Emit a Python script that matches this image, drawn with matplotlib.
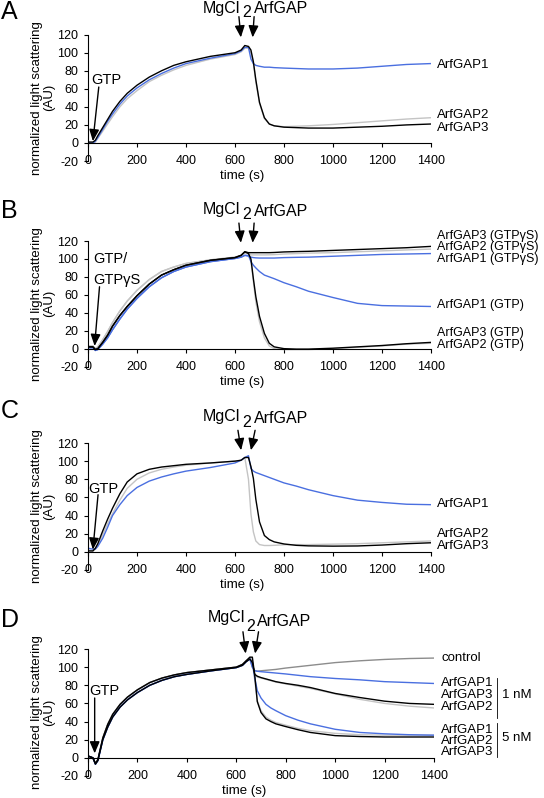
import matplotlib
matplotlib.use('Agg')
import matplotlib.pyplot as plt
import matplotlib.transforms as mtransforms

plt.rcParams['font.family'] = ['Liberation Sans', 'DejaVu Sans']
plt.rcParams['axes.unicode_minus'] = False

# time grid (s) shared by every trace
T = [0, 20, 30, 40, 60, 80, 100, 130, 160, 200, 250, 300, 350, 400, 500, 600,
     625, 640, 655, 665, 675, 685, 700, 720, 740, 760, 800, 850, 900, 1000,
     1100, 1200, 1300, 1400]

# panel A
a_gap1 = [0, 0, 2, 6, 15, 24, 32, 43, 52, 61, 70, 77, 83, 88, 94, 99, 102, 106, 106,
          93, 88, 86, 85, 84, 84, 83.5, 83, 82.5, 82, 82, 83, 85, 87, 88]
a_gap2 = [0, 0, 1, 5, 13, 21, 29, 40, 49, 58, 68, 75, 81, 86, 93, 98, 101, 105, 105,
          100, 88, 68, 44, 27, 21, 19, 18, 18.5, 19, 20.5, 22.5, 24.5, 26.5, 28]
a_gap3 = [1, 1, 3, 8, 17, 26, 35, 46, 55, 64, 73, 80, 86, 90, 96, 100, 103, 108, 107,
          103, 90, 70, 45, 28, 21, 19, 17.5, 17, 16.5, 16.5, 17.5, 18.5, 20, 21]

# panel B
b_gap1_gs = [1, 1, -2, -1, 5, 12, 21, 33, 44, 56, 69, 79, 86, 91, 97, 100.5, 102, 104, 103,
             102, 101.5, 101.2, 101, 101, 101, 101, 101.5, 101.8, 102, 103, 104, 105, 105.5, 106]
b_gap1_gtp = [1, 1, -2, -1, 5, 12, 21, 33, 44, 56, 69, 79, 86, 91, 97, 100.5, 102, 104, 104,
              97, 93, 90, 86, 82, 80, 78, 73.5, 69, 64, 57, 50.5, 48, 47.5, 47]
b_gap2_gs = [3, 3, 0, 2, 10, 19, 29, 42, 53, 65, 77, 86, 91, 95, 99, 102, 104, 107, 106,
             104.5, 104.5, 104.5, 104.5, 104.5, 104.6, 104.8, 105.5, 106, 106.5, 107, 108, 109, 110, 111]
b_gap2_gtp = [3, 3, 0, 2, 10, 19, 29, 42, 53, 65, 77, 86, 91, 95, 99, 102, 104, 107, 106,
              98, 75, 52, 30, 12, 3, 0, -1, -1, -1, 0, 1.5, 3, 5, 6]
b_gap3_gs = [2, 2, -1, 0, 7, 15, 25, 37, 47, 59, 72, 82, 88, 93, 98.5, 101.5, 104, 108, 107,
             107, 107, 107, 107, 107, 107, 107.2, 107.8, 108.2, 108.5, 109.5, 110.5, 111.5, 112.5, 114]
b_gap3_gtp = [2, 2, -1, 0, 7, 15, 25, 37, 47, 59, 72, 82, 88, 93, 98.5, 101.5, 104, 108, 106,
              100, 78, 58, 36, 17, 6, 2, 0, -0.5, -0.5, 0.5, 2, 3.5, 5.5, 7]

# panel C
c_gap1 = [4, 3, 3, 6, 15, 27, 40, 52, 62, 71, 78, 82.5, 86, 89, 93, 98, 101, 104, 106,
          92, 89, 87.5, 86, 84, 82, 80, 76, 72.5, 68.5, 62, 57, 54.5, 52.5, 52]
c_gap2 = [2, 1, 3, 7, 19, 31, 42, 57, 70, 80, 87, 91, 93.5, 95.5, 98, 100, 101, 104, 80,
          42, 22, 12, 8, 7, 7, 7.2, 7.8, 8, 8, 8.5, 9, 10, 11, 12]
c_gap3 = [1, 1, 4, 9, 23, 36, 48, 64, 77, 86, 91, 93.5, 95, 96.5, 98, 100, 101, 104, 104,
          94, 81, 58, 33, 18, 13.5, 11, 8.7, 7.2, 6.6, 6.3, 6.5, 7.5, 9, 10]

# panel D
d_control = [2, 0, -6, -2, 22, 37, 48, 59, 67, 75, 83, 88, 91.5, 94, 97, 100, 103, 107, 109,
             100, 96, 95.5, 96, 96.5, 97, 97.5, 99, 100.5, 102, 105, 107, 108.5, 109.5, 110]
d_gap1_1 = [2, 0, -7, -3, 20, 34, 45, 56, 64, 72, 80, 85.5, 89.5, 92, 96, 99.5, 102, 106, 109,
            100, 96, 95.5, 95, 94.5, 94, 93.5, 92.5, 91, 89.5, 87.5, 86, 84, 83, 82]
d_gap3_1 = [2, 0, -7, -3, 20, 34, 45, 56, 64, 72, 80, 85.5, 89.5, 92, 96, 99.5, 102, 106, 109,
            105, 92, 90, 88.5, 87, 85.5, 84, 82, 80, 77.5, 71, 66.5, 62.5, 60, 59]
d_gap2_1 = [2, 0, -6, -2, 22, 37, 48, 59, 67, 75, 83, 88, 91.5, 94, 97, 100, 103, 107, 110,
            104, 92, 89, 88, 86.5, 85, 83.5, 81.5, 79, 76.5, 70.5, 64.5, 60, 57, 55]
d_gap1_5 = [2, 0, -7, -3, 20, 34, 45, 56, 64, 72, 80, 85.5, 89.5, 92, 96, 99.5, 102, 106, 109,
            105, 88, 74, 66, 59, 55, 52, 46.5, 41.5, 37.5, 31.5, 28, 26.5, 25.5, 25]
d_gap2_5 = [2, 0, -6, -2, 22, 37, 48, 59, 67, 75, 83, 88, 91.5, 94, 97, 100, 103, 107, 111,
            106, 85, 63, 52, 45, 41.5, 39, 36, 32.5, 30, 27, 25.5, 25, 25, 25]
d_gap3_5 = [2, 0, -6, -2, 22, 37, 48, 59, 67, 75, 83, 88, 91.5, 94, 97, 100, 103, 107, 111,
            111, 90, 62, 50, 43, 40, 37.5, 34.5, 31, 28, 24.5, 23.5, 23, 23, 23]

BLUE = '#4a6fe0'
LGRAY = '#c4c4c4'
DGRAY = '#8c8c8c'
W, H = 544, 798

fig = plt.figure(figsize=(W / 100, H / 100), dpi=100)


def make_axes(left, right, top, bottom, letter, letter_y):
    ax = fig.add_axes([left / W, 1 - bottom / H, (right - left) / W, (bottom - top) / H])
    ax.set_xlim(0, 1400)
    ax.set_ylim(-20, 120)
    ax.patch.set_visible(False)
    for s in ('top', 'right'):
        ax.spines[s].set_visible(False)
    ax.spines['bottom'].set_position(('data', 0))
    for s in ('left', 'bottom'):
        ax.spines[s].set_linewidth(0.8)
    ax.set_xticks(range(0, 1401, 200))
    ax.set_yticks(range(-20, 121, 20))
    ax.tick_params(direction='out', length=3, width=0.8, labelsize=9)
    ax.tick_params(axis='x', pad=6)
    ax.tick_params(axis='y', pad=4)
    tr = mtransforms.blended_transform_factory(ax.transAxes, ax.transData)
    ax.text(0.45, -37, 'time (s)', transform=tr, ha='center', va='center', fontsize=9.5)
    fig.text(43 / W, 1 - (top + bottom) / 2 / H, 'normalized light scattering\n(AU)',
             rotation=90, ha='center', va='center', ma='center', fontsize=9.5, linespacing=1.05)
    fig.text(1 / W, 1 - letter_y / H, letter, ha='left', va='center', fontsize=18)
    return ax


def add_arrows(ax, mg, two, gap, a1, a2):
    # "MgCl" ends right where the lowered "2" starts
    ax.text(two[0] - 8, mg[1], 'MgCl', ha='right', va='center', fontsize=11.5)
    ax.text(two[0], two[1], '2', ha='left', va='center', fontsize=11.5)
    ax.text(gap[0], gap[1], 'ArfGAP', ha='left', va='center', fontsize=11.5)
    for (x0, y0, x1, y1) in (a1, a2):
        ax.annotate('', xy=(x1, y1), xytext=(x0, y0),
                    arrowprops=dict(arrowstyle='-|>,head_length=0.7,head_width=0.3',
                                    color='k', lw=1.0, shrinkA=0, shrinkB=0),
                    annotation_clip=False)


def gtp_arrow(ax, x0, y0, x1, y1):
    ax.annotate('', xy=(x1, y1), xytext=(x0, y0),
                arrowprops=dict(arrowstyle='-|>,head_length=0.7,head_width=0.3',
                                color='k', lw=1.0, shrinkA=0, shrinkB=0))


lw = 1.0

# ---- A ----
ax = make_axes(88, 431, 34.7, 161, 'A', 12)
ax.plot(T, a_gap2, color=LGRAY, lw=lw)
ax.plot(T, a_gap1, color=BLUE, lw=lw)
ax.plot(T, a_gap3, color='k', lw=lw)
add_arrows(ax, (474, 149.5), (630, 145), (677, 148.5), (616, 140, 624, 117), (678, 140, 672, 117))
ax.text(73, 70, 'GTP', ha='center', va='center', fontsize=10.5)
gtp_arrow(ax, 44, 62, 20, 2)
for txt, y in (('ArfGAP1', 86), ('ArfGAP2', 31), ('ArfGAP3', 17)):
    ax.text(1425, y, txt, ha='left', va='center', fontsize=9.5)

# ---- B ----
ax = make_axes(88, 431, 241, 366.6, 'B', 211)
ax.plot(T, b_gap2_gs, color=LGRAY, lw=lw)
ax.plot(T, b_gap2_gtp, color=LGRAY, lw=lw)
ax.plot(T, b_gap1_gs, color=BLUE, lw=lw)
ax.plot(T, b_gap1_gtp, color=BLUE, lw=lw)
ax.plot(T, b_gap3_gs, color='k', lw=lw)
ax.plot(T, b_gap3_gtp, color='k', lw=lw)
add_arrows(ax, (477, 155), (630, 149), (677, 153), (616, 140, 624, 118), (678, 140, 672, 118))
ax.text(20, 100, 'GTP/', ha='left', va='center', fontsize=10.5)
ax.text(20, 76, 'GTPγS', ha='left', va='center', fontsize=10.5)
gtp_arrow(ax, 47, 69, 27, 3)
for txt, y in (('ArfGAP3 (GTPγS)', 126), ('ArfGAP2 (GTPγS)', 113), ('ArfGAP1 (GTPγS)', 100),
               ('ArfGAP1 (GTP)', 48.7), ('ArfGAP3 (GTP)', 18), ('ArfGAP2 (GTP)', 4)):
    ax.text(1425, y, txt, ha='left', va='center', fontsize=9)

# ---- C ----
ax = make_axes(88, 431, 443, 570, 'C', 410.7)
ax.plot(T, c_gap2, color=LGRAY, lw=lw)
ax.plot(T, c_gap1, color=BLUE, lw=lw)
ax.plot(T, c_gap3, color='k', lw=lw)
add_arrows(ax, (477, 149), (630, 143), (677, 147), (612, 134, 625, 112), (682, 134, 665, 112))
ax.text(61, 69.6, 'GTP', ha='center', va='center', fontsize=10.5)
gtp_arrow(ax, 41, 63, 20, 2.5)
for txt, y in (('ArfGAP1', 52.5), ('ArfGAP2', 19.5), ('ArfGAP3', 6)):
    ax.text(1425, y, txt, ha='left', va='center', fontsize=9.5)

# ---- D ----
ax = make_axes(88, 434, 649, 776, 'D', 620)
ax.plot(T, d_gap2_1, color=LGRAY, lw=lw)
ax.plot(T, d_gap2_5, color=LGRAY, lw=lw)
ax.plot(T, d_control, color=DGRAY, lw=lw)
ax.plot(T, d_gap1_1, color=BLUE, lw=lw)
ax.plot(T, d_gap1_5, color=BLUE, lw=lw)
ax.plot(T, d_gap3_1, color='k', lw=lw)
ax.plot(T, d_gap3_5, color='k', lw=lw)
add_arrows(ax, (494, 155), (642, 145), (684, 150.5), (627, 139, 638, 115), (690, 139, 676, 115))
ax.text(67, 74, 'GTP', ha='center', va='center', fontsize=10.5)
gtp_arrow(ax, 27, 66, 27, 5)
for txt, y in (('control', 110.4), ('ArfGAP1', 82), ('ArfGAP3', 69.4), ('ArfGAP2', 56.5),
               ('ArfGAP1', 31), ('ArfGAP2', 19), ('ArfGAP3', 7)):
    ax.text(1430, y, txt, ha='left', va='center', fontsize=9.5)
ax.plot([1655, 1655], [88, 44], color='k', lw=0.6, clip_on=False)
ax.plot([1655, 1655], [38, 1], color='k', lw=0.6, clip_on=False)
ax.text(1674, 69.4, '1 nM', ha='left', va='center', fontsize=9.5)
ax.text(1674, 21.7, '5 nM', ha='left', va='center', fontsize=9.5)

fig.savefig('out.png', dpi=100)
